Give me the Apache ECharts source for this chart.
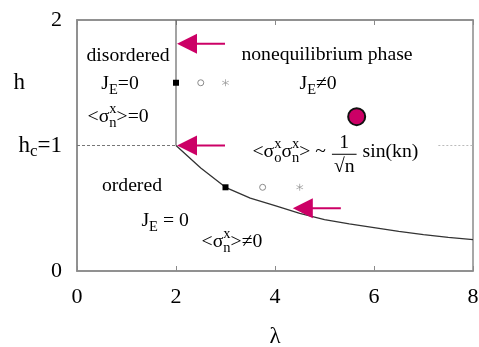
<!DOCTYPE html>
<html>
<head>
<meta charset="utf-8">
<script src="https://cdn.jsdelivr.net/npm/echarts@6/dist/echarts.min.js"></script>
<style>
  html, body { margin: 0; padding: 0; background: #fff; }
  #main { width: 479px; height: 347px; }
</style>
</head>
<body>
<div id="main"></div>
<script>
// phase boundary h_c(lambda)
const boundaryCurve = [[2, 1], [2.5, 0.82], [3, 0.667], [3.5, 0.58], [4, 0.52], [4.5, 0.46], [5, 0.41],
  [5.5, 0.375], [6, 0.345], [6.5, 0.315], [7, 0.29], [7.5, 0.268], [8, 0.25]];
const verticalLine = [[2, 1], [2, 2]];
const dashedLine = [[0, 1], [2, 1]];
const dottedLine = [[7.3, 1], [8, 1]];
const squarePts = [[2, 1.5], [3, 0.667]];
const circlePts = [[2.5, 1.5], [3.75, 0.667]];
const starPts = [[3, 1.5], [4.5, 0.667]];
const bigDot = [[5.65, 1.23]];
// arrows: [tip, tail]
const arrows = [
  [[2.02, 1.81], [2.99, 1.81]],
  [[2.02, 1.0], [2.99, 1.0]],
  [[4.36, 0.5], [5.33, 0.5]]
];
const xTicks = [0, 2, 4, 6, 8];
const yLabels = { 0: '0', 1: '{m|h}{c|c}{m|=1}', 1.5: '{h|h}', 2: '2' };

const FONT = 'Liberation Serif';
const MAG = '#cc0066';
const GRAY = '#8a8a8a';

const chart = echarts.init(document.getElementById('main'));

const asterisk = 'path://M4.5 0L5.5 0L5.5 10L4.5 10Z M0.42 7.07L9.08 2.07L9.58 2.93L0.92 7.93Z M0.92 2.07L9.58 7.07L9.08 7.93L0.42 2.93Z';

function lineSeries(data, color, width, type) {
  return {
    type: 'line', data: data, symbol: 'none', silent: true, animation: false,
    lineStyle: { color: color, width: width, type: type || 'solid' }, z: 3
  };
}

chart.setOption({
  animation: false,
  grid: { left: 77, right: 6, top: 20, bottom: 76, containLabel: false, outerBoundsMode: 'none',
    show: true, borderColor: GRAY, borderWidth: 1.5, backgroundColor: 'transparent' },
  xAxis: [{
    type: 'value', min: 0, max: 8, interval: 2,
    name: 'λ', nameLocation: 'middle', nameGap: 54,
    nameTextStyle: { fontFamily: FONT, fontSize: 23, color: '#000' },
    axisLine: { lineStyle: { color: GRAY, width: 1.5 } },
    axisTick: { inside: true, length: 5, lineStyle: { color: GRAY } },
    splitLine: { show: false },
    axisLabel: { fontFamily: FONT, fontSize: 22, color: '#000', margin: 15,
      formatter: v => xTicks.includes(v) ? String(v) : '' }
  }, {
    type: 'value', min: 0, max: 8, interval: 2, position: 'top',
    axisLine: { lineStyle: { color: GRAY, width: 1.5 } },
    axisTick: { inside: true, length: 5, lineStyle: { color: GRAY } },
    splitLine: { show: false }, axisLabel: { show: false }
  }],
  yAxis: {
    type: 'value', min: 0, max: 2, interval: 0.5,
    axisLine: { show: true, lineStyle: { color: GRAY, width: 1.5 } },
    axisTick: { show: false },
    splitLine: { show: false },
    axisLabel: {
      fontFamily: FONT, fontSize: 22, color: '#000', margin: 15,
      formatter: v => yLabels[v] || '',
      rich: {
        m: { fontFamily: FONT, fontSize: 23, color: '#000' },
        c: { fontFamily: FONT, fontSize: 17, color: '#000', padding: [13, 0, 0, 0] },
        h: { fontFamily: FONT, fontSize: 23, color: '#000', padding: [0, 37, 0, 0] }
      }
    }
  },
  series: [
    lineSeries(dashedLine, '#777', 1, [3, 2]),
    lineSeries(dottedLine, '#bbb', 1.2, [2, 2]),
    lineSeries(verticalLine, '#666', 1.2),
    lineSeries(boundaryCurve, '#333', 1.3),
    { type: 'scatter', data: squarePts, symbol: 'rect', symbolSize: 6, itemStyle: { color: '#000', opacity: 1 }, z: 5 },
    { type: 'scatter', data: circlePts, symbol: 'circle', symbolSize: 6, itemStyle: { color: '#fff', borderColor: GRAY, borderWidth: 1, opacity: 1 }, z: 5 },
    { type: 'scatter', data: starPts, symbol: asterisk, symbolSize: 7, itemStyle: { color: '#999', opacity: 1 }, z: 5 },
    { type: 'scatter', data: bigDot, symbol: 'circle', symbolSize: 17, itemStyle: { color: MAG, borderColor: '#111', borderWidth: 2, opacity: 1 }, z: 6 }
  ]
});

// ---- annotations (built from text pieces, placed in data coordinates) ----
const ctx = document.createElement('canvas').getContext('2d');
function tw(t, fs) { ctx.font = fs + 'px "' + FONT + '"'; return ctx.measureText(t).width; }

const MAIN = 19.7, SMALL = 14.5;
function N(t) { return { t: t, fs: MAIN, dy: 0 }; }
function supsub(sup, sub) { return { sup: sup, sub: sub }; }
function SUB(t) { return { t: t, fs: SMALL, dy: 6 }; }
function frac(num, den) { return { num: num, den: den }; }

const annotations = [
  { at: [1.03, 1.713], pieces: [N('disordered')] },
  { at: [5.05, 1.72], pieces: [N('nonequilibrium phase')] },
  { at: [0.87, 1.49], pieces: [N('J'), SUB('E'), N('=0')] },
  { at: [0.83, 1.227], pieces: [N('<σ'), supsub('x', 'n'), N('>=0')] },
  { at: [4.87, 1.49], pieces: [N('J'), SUB('E'), N('≠0')] },
  { at: [5.22, 0.95], pieces: [N('<σ'), supsub('x', 'o'), N('σ'), supsub('x', 'n'), N('> ~ '), frac('1', '√n'), N(' sin(kn)')] },
  { at: [1.11, 0.677], pieces: [N('ordered')] },
  { at: [1.78, 0.398], pieces: [N('J'), SUB('E'), N(' = 0')] },
  { at: [3.13, 0.231], pieces: [N('<σ'), supsub('x', 'n'), N('>≠0')] }
];

function pieceWidth(p) {
  if (p.sup !== undefined) return Math.max(tw(p.sup, SMALL), tw(p.sub, SMALL));
  if (p.num !== undefined) return Math.max(tw(p.num, MAIN), tw(p.den, MAIN)) + 6;
  return tw(p.t, p.fs);
}

function txt(x, y, t, fs, align) {
  return { type: 'text', x: x, y: y, silent: true, z: 10,
    style: { text: t, fontFamily: FONT, fontSize: fs, fill: '#000', align: align || 'left', verticalAlign: 'middle' } };
}

const graphics = [];
annotations.forEach(a => {
  const c = chart.convertToPixel({ gridIndex: 0 }, a.at);
  const total = a.pieces.reduce((s, p) => s + pieceWidth(p), 0);
  let x = c[0] - total / 2;
  const y = c[1];
  a.pieces.forEach(p => {
    const w = pieceWidth(p);
    if (p.sup !== undefined) {
      graphics.push(txt(x, y - 8, p.sup, SMALL));
      graphics.push(txt(x, y + 6, p.sub, SMALL));
    } else if (p.num !== undefined) {
      const mid = x + w / 2;
      graphics.push(txt(mid, y - 9, p.num, MAIN, 'center'));
      graphics.push({ type: 'line', silent: true, z: 10, shape: { x1: x + 1, y1: y + 2.5, x2: x + w - 1, y2: y + 2.5 }, style: { stroke: '#000', lineWidth: 1 } });
      graphics.push(txt(mid, y + 15, p.den, MAIN, 'center'));
    } else {
      graphics.push(txt(x, y + p.dy, p.t, p.fs));
    }
    x += w;
  });
});

// arrows
arrows.forEach(a => {
  const tip = chart.convertToPixel({ gridIndex: 0 }, a[0]);
  const tail = chart.convertToPixel({ gridIndex: 0 }, a[1]);
  graphics.push({ type: 'line', silent: true, z: 11,
    shape: { x1: tip[0] + 15, y1: tip[1], x2: tail[0], y2: tail[1] },
    style: { stroke: MAG, lineWidth: 2 } });
  graphics.push({ type: 'polygon', silent: true, z: 11,
    shape: { points: [[tip[0], tip[1]], [tip[0] + 20, tip[1] - 10], [tip[0] + 20, tip[1] + 10]] },
    style: { fill: MAG } });
});

chart.setOption({ graphic: graphics });
</script>
</body>
</html>
